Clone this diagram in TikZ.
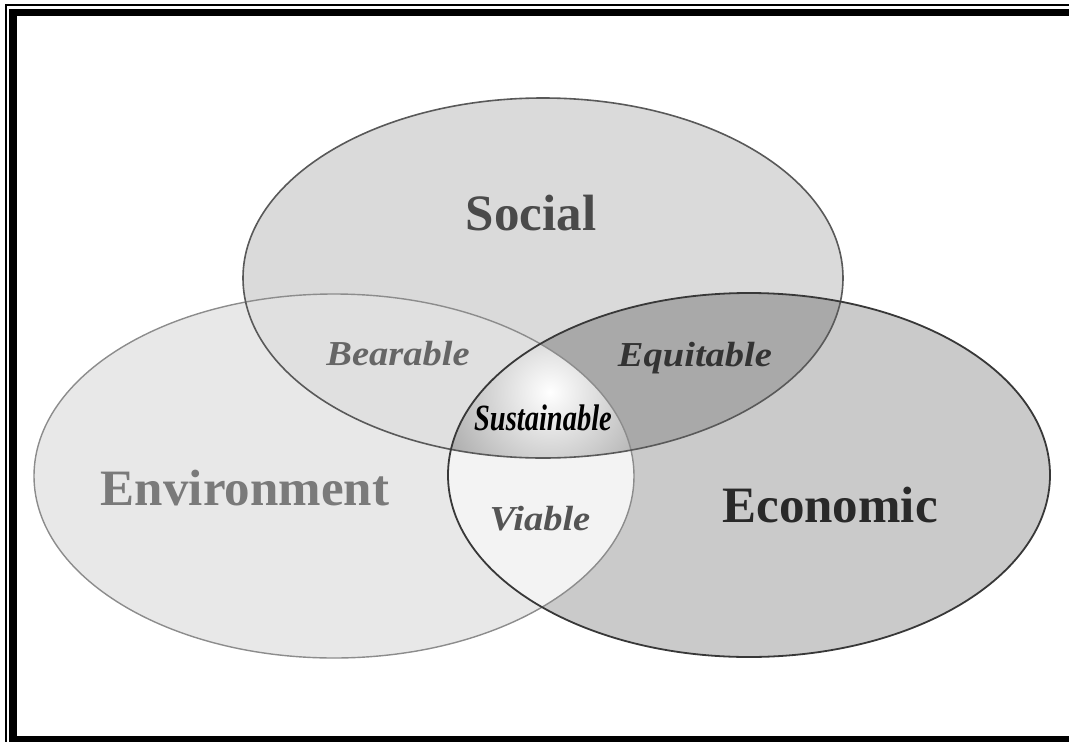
\documentclass[tikz,border=0pt]{standalone}
\usepackage{fontspec}
\setmainfont{Liberation Serif}
\newfontfamily\overlapfont[FakeStretch=1.1]{Liberation Serif}
\newfontfamily\corefont[FakeStretch=0.77]{Liberation Serif}

\definecolor{socfill}{HTML}{DADADA}
\definecolor{envfill}{HTML}{E8E8E8}
\definecolor{ecofill}{HTML}{CACACA}
\definecolor{bearfill}{HTML}{E0E0E0}
\definecolor{equifill}{HTML}{A9A9A9}
\definecolor{viafill}{HTML}{F3F3F3}

\tikzset{
  setname/.style={font=\fontsize{51}{60}\selectfont\bfseries, anchor=base},
  pairname/.style={font=\overlapfont\fontsize{35}{42}\selectfont\bfseries\itshape, anchor=base},
}

\begin{document}
\begin{tikzpicture}[x=1pt,y=-1pt]
  \useasboundingbox (0,0) rectangle (1069,742);
  \clip (0,0) rectangle (1069,742);
  \coordinate (S) at (543,278);
  \coordinate (E) at (334,476);
  \coordinate (C) at (749,475);
  % Shade the three sets first
  \fill[envfill] (E) ellipse (300 and 182);
  \fill[ecofill] (C) ellipse (301 and 182);
  \fill[socfill] (S) ellipse (300 and 180);
  % Pairwise overlaps
  \begin{scope}
    \clip (S) ellipse (300 and 180);
    \fill[bearfill] (E) ellipse (300 and 182);
    \fill[equifill] (C) ellipse (301 and 182);
  \end{scope}
  \begin{scope}
    \clip (E) ellipse (300 and 182);
    \fill[viafill] (C) ellipse (301 and 182);
  \end{scope}
  % Centre of all three
  \begin{scope}
    \clip (S) ellipse (300 and 180);
    \clip (E) ellipse (300 and 182);
    \clip (C) ellipse (301 and 182);
    \shade[inner color=white, outer color=black!42] (550,392) circle (150);
  \end{scope}
  % Outlines
  \draw[black!45, line width=1.4] (E) ellipse (300 and 182);
  \draw[black!65, line width=1.6] (S) ellipse (300 and 180);
  \draw[black!78, line width=1.8] (C) ellipse (301 and 182);
  % Labels
  \node[setname, text=black!71] (social) at (531,230) {Social};
  \node[setname, text=black!52] (environment) at (245,505) {Environment};
  \node[setname, text=black!84] (economic) at (830,522) {Economic};
  \node[pairname, text=black!60] (bearable) at (398,365) {Bearable};
  \node[pairname, text=black!80] (equitable) at (695,366) {Equitable};
  \node[pairname, text=black!67] (viable) at (540,530) {Viable};
  \node[font=\corefont\fontsize{37}{44}\selectfont\bfseries\itshape, anchor=base]
    (sustainable) at (543,430) {Sustainable};
  % Frame
  \draw[line width=2] (6,5) rectangle (1100,800);
  \draw[line width=7.5] (13,12.5) rectangle (1090,740);
\end{tikzpicture}
\end{document}
